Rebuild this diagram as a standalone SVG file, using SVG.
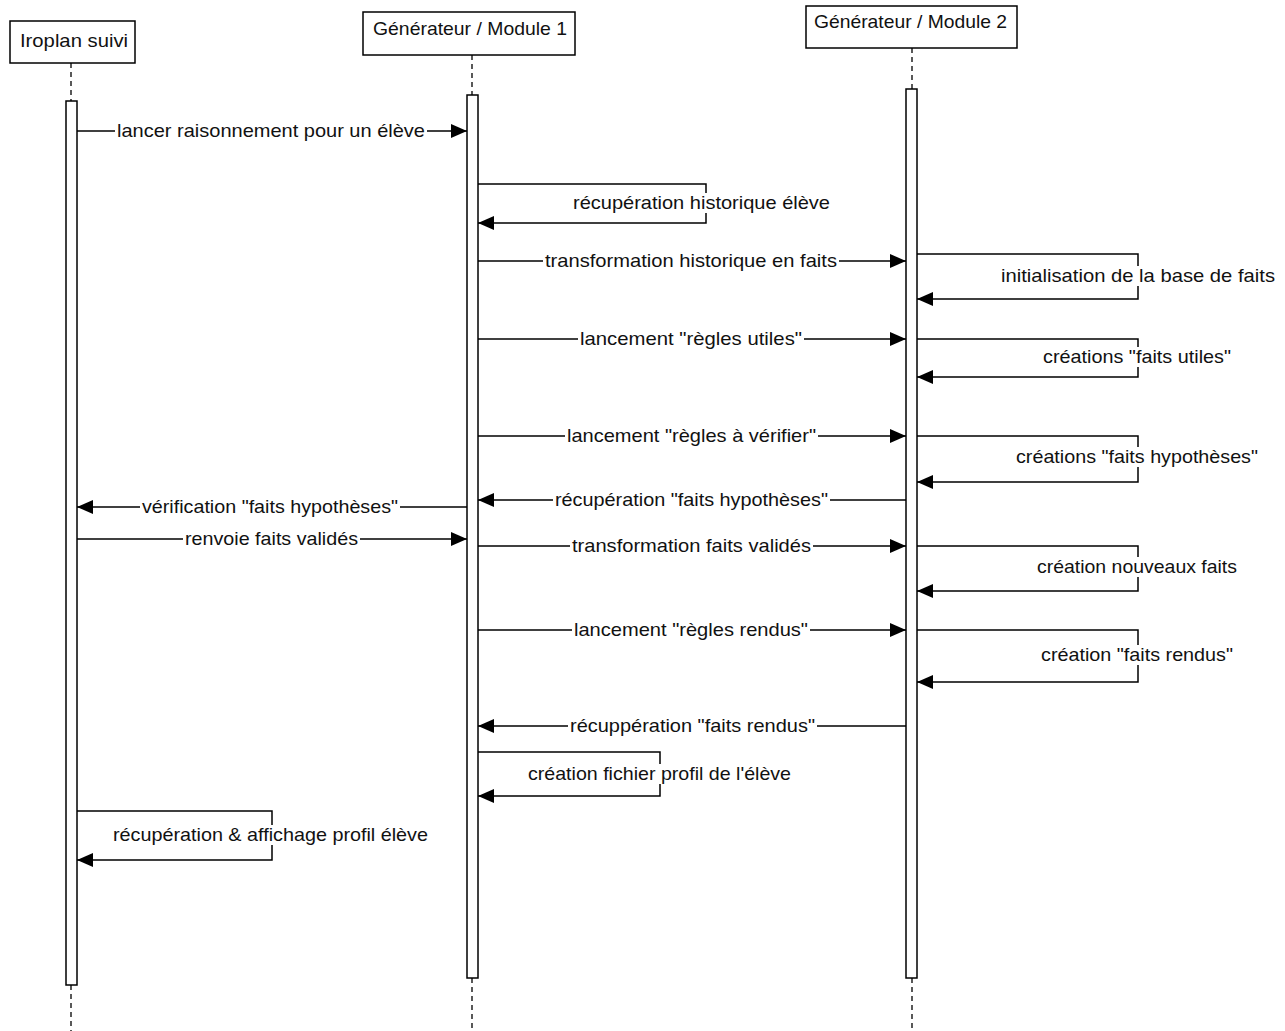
<svg xmlns="http://www.w3.org/2000/svg" width="1285" height="1031" viewBox="0 0 1285 1031">
<defs>
<style>
.box{fill:#fff;stroke:#000;stroke-width:1.5}
.life{stroke:#000;stroke-width:1.3;stroke-dasharray:5,4;fill:none}
.act{fill:#fff;stroke:#000;stroke-width:1.5}
.msg{stroke:#000;stroke-width:1.5;fill:none}
.lbl{font-family:"Liberation Sans",Arial,sans-serif;font-size:18.5px;fill:#111}
.bg{fill:#fff}
</style>
<marker id="ah" viewBox="0 0 16 14" refX="16" refY="7" markerWidth="16" markerHeight="14" markerUnits="userSpaceOnUse" orient="auto">
<path d="M0,0 L16,7 L0,14 Z" fill="#000"/>
</marker>
</defs>
<rect width="1285" height="1031" fill="#fff"/>

<g id="lifelines">
<line class="life" x1="71" y1="63" x2="71" y2="101"/>
<line class="life" x1="71" y1="985" x2="71" y2="1031"/>
<line class="life" x1="472" y1="55" x2="472" y2="95"/>
<line class="life" x1="472" y1="978" x2="472" y2="1031"/>
<line class="life" x1="912" y1="48" x2="912" y2="89"/>
<line class="life" x1="912" y1="978" x2="912" y2="1031"/>
</g>

<g id="node-iroplan">
<rect class="box" x="10" y="21" width="125" height="42"/>
<text class="lbl" x="20" y="47" textLength="108" lengthAdjust="spacingAndGlyphs">Iroplan suivi</text>
<rect class="act" x="66" y="101" width="11" height="884"/>
</g>
<g id="node-module1">
<rect class="box" x="363" y="12" width="212" height="43"/>
<text class="lbl" x="373" y="35" textLength="194" lengthAdjust="spacingAndGlyphs">Générateur / Module 1</text>
<rect class="act" x="467" y="95" width="11" height="883"/>
</g>
<g id="node-module2">
<rect class="box" x="806" y="6" width="211" height="42"/>
<text class="lbl" x="814" y="28" textLength="193" lengthAdjust="spacingAndGlyphs">Générateur / Module 2</text>
<rect class="act" x="906" y="89" width="11" height="889"/>
</g>

<g id="connectors">
<line class="msg" x1="77" y1="131" x2="467" y2="131" marker-end="url(#ah)"/>
<rect class="bg" x="115" y="121" width="312" height="20"/>
<text class="lbl" x="117" y="137" textLength="308" lengthAdjust="spacingAndGlyphs">lancer raisonnement pour un élève</text>

<polyline class="msg" points="478,184 706,184 706,223 478,223" marker-end="url(#ah)"/>
<rect class="bg" x="571" y="193" width="261" height="20"/>
<text class="lbl" x="573" y="209" textLength="257" lengthAdjust="spacingAndGlyphs">récupération historique élève</text>

<line class="msg" x1="478" y1="261" x2="906" y2="261" marker-end="url(#ah)"/>
<rect class="bg" x="543" y="251" width="296" height="20"/>
<text class="lbl" x="545" y="267" textLength="292" lengthAdjust="spacingAndGlyphs">transformation historique en faits</text>

<polyline class="msg" points="917,254 1138,254 1138,299 917,299" marker-end="url(#ah)"/>
<rect class="bg" x="999" y="266" width="280" height="20"/>
<text class="lbl" x="1001" y="282" textLength="274" lengthAdjust="spacingAndGlyphs">initialisation de la base de faits</text>

<line class="msg" x1="478" y1="339" x2="906" y2="339" marker-end="url(#ah)"/>
<rect class="bg" x="578" y="329" width="226" height="20"/>
<text class="lbl" x="580" y="345" textLength="222" lengthAdjust="spacingAndGlyphs">lancement "règles utiles"</text>

<polyline class="msg" points="917,339 1138,339 1138,377 917,377" marker-end="url(#ah)"/>
<rect class="bg" x="1041" y="347" width="192" height="20"/>
<text class="lbl" x="1043" y="363" textLength="188" lengthAdjust="spacingAndGlyphs">créations "faits utiles"</text>

<line class="msg" x1="478" y1="436" x2="906" y2="436" marker-end="url(#ah)"/>
<rect class="bg" x="565" y="426" width="253" height="20"/>
<text class="lbl" x="567" y="442" textLength="249" lengthAdjust="spacingAndGlyphs">lancement "règles à vérifier"</text>

<polyline class="msg" points="917,436 1138,436 1138,482 917,482" marker-end="url(#ah)"/>
<rect class="bg" x="1014" y="447" width="246" height="20"/>
<text class="lbl" x="1016" y="463" textLength="242" lengthAdjust="spacingAndGlyphs">créations "faits hypothèses"</text>

<line class="msg" x1="906" y1="500" x2="478" y2="500" marker-end="url(#ah)"/>
<rect class="bg" x="553" y="490" width="277" height="20"/>
<text class="lbl" x="555" y="506" textLength="273" lengthAdjust="spacingAndGlyphs">récupération "faits hypothèses"</text>

<line class="msg" x1="467" y1="507" x2="77" y2="507" marker-end="url(#ah)"/>
<rect class="bg" x="140" y="497" width="260" height="20"/>
<text class="lbl" x="142" y="513" textLength="256" lengthAdjust="spacingAndGlyphs">vérification "faits hypothèses"</text>

<line class="msg" x1="77" y1="539" x2="467" y2="539" marker-end="url(#ah)"/>
<rect class="bg" x="183" y="529" width="177" height="20"/>
<text class="lbl" x="185" y="545" textLength="173" lengthAdjust="spacingAndGlyphs">renvoie faits validés</text>

<line class="msg" x1="478" y1="546" x2="906" y2="546" marker-end="url(#ah)"/>
<rect class="bg" x="570" y="536" width="243" height="20"/>
<text class="lbl" x="572" y="552" textLength="239" lengthAdjust="spacingAndGlyphs">transformation faits validés</text>

<polyline class="msg" points="917,546 1138,546 1138,591 917,591" marker-end="url(#ah)"/>
<rect class="bg" x="1035" y="557" width="204" height="20"/>
<text class="lbl" x="1037" y="573" textLength="200" lengthAdjust="spacingAndGlyphs">création nouveaux faits</text>

<line class="msg" x1="478" y1="630" x2="906" y2="630" marker-end="url(#ah)"/>
<rect class="bg" x="572" y="620" width="238" height="20"/>
<text class="lbl" x="574" y="636" textLength="234" lengthAdjust="spacingAndGlyphs">lancement "règles rendus"</text>

<polyline class="msg" points="917,630 1138,630 1138,682 917,682" marker-end="url(#ah)"/>
<rect class="bg" x="1039" y="645" width="196" height="20"/>
<text class="lbl" x="1041" y="661" textLength="192" lengthAdjust="spacingAndGlyphs">création "faits rendus"</text>

<line class="msg" x1="906" y1="726" x2="478" y2="726" marker-end="url(#ah)"/>
<rect class="bg" x="568" y="716" width="249" height="20"/>
<text class="lbl" x="570" y="732" textLength="245" lengthAdjust="spacingAndGlyphs">récuppération "faits rendus"</text>

<polyline class="msg" points="478,752 660,752 660,796 478,796" marker-end="url(#ah)"/>
<rect class="bg" x="526" y="764" width="267" height="20"/>
<text class="lbl" x="528" y="780" textLength="263" lengthAdjust="spacingAndGlyphs">création fichier profil de l'élève</text>

<polyline class="msg" points="77,811 272,811 272,860 77,860" marker-end="url(#ah)"/>
<rect class="bg" x="111" y="825" width="319" height="20"/>
<text class="lbl" x="113" y="841" textLength="315" lengthAdjust="spacingAndGlyphs">récupération &amp; affichage profil élève</text>
</g>
</svg>
